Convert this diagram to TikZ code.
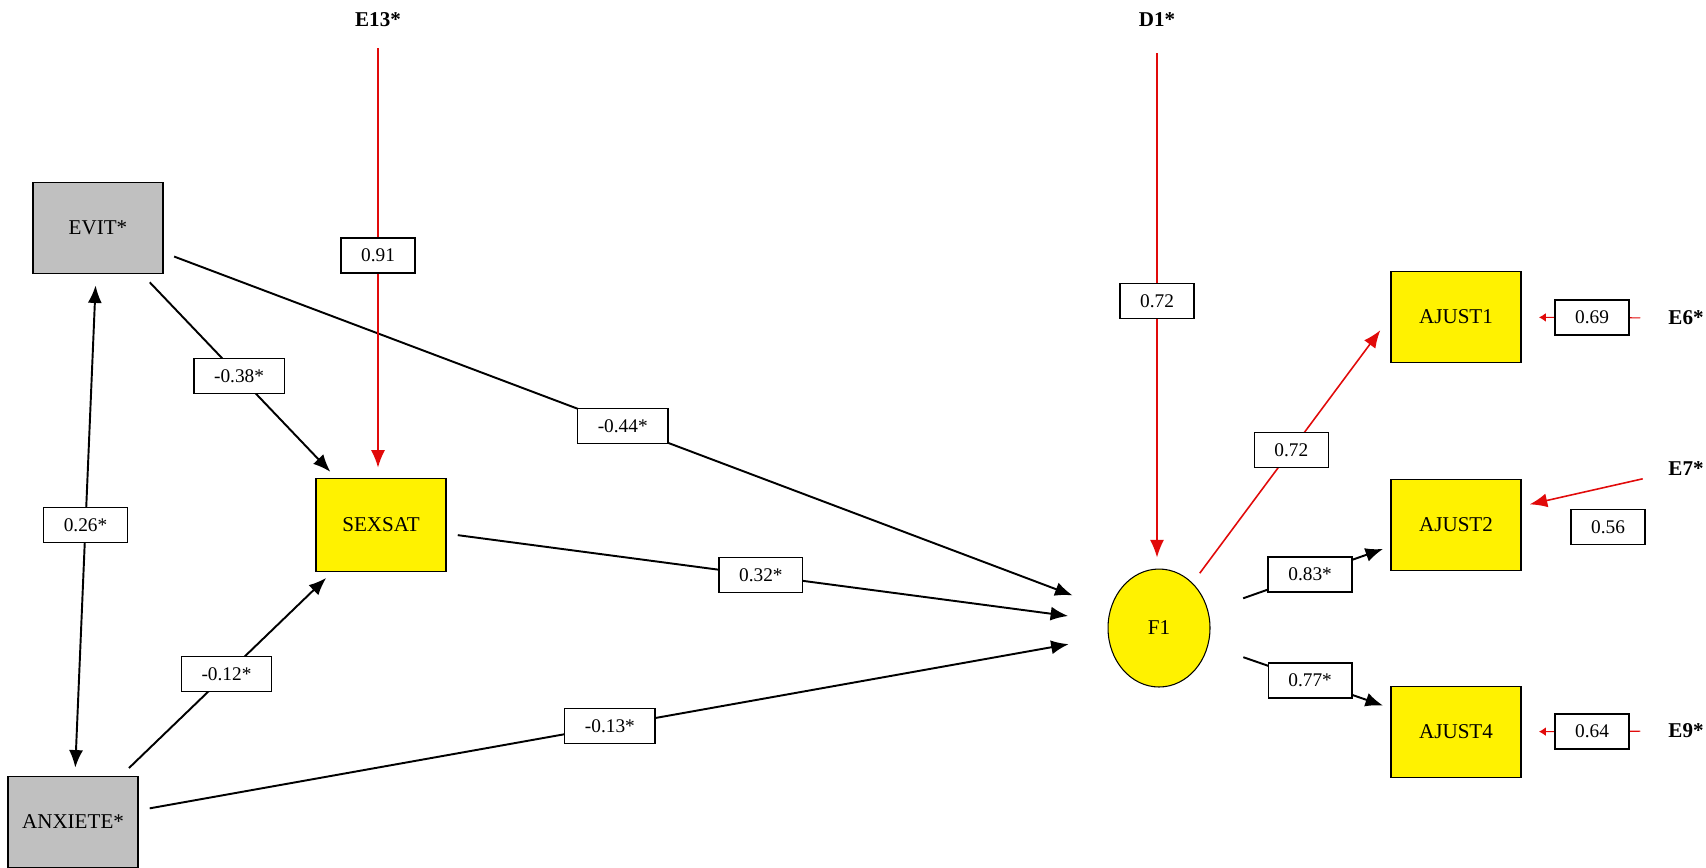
\documentclass[tikz,border=0pt]{standalone}
\usepackage{fontspec}
\setmainfont{Liberation Serif}
\usetikzlibrary{arrows.meta,shapes.geometric}
\definecolor{boxgray}{RGB}{192,192,192}
\definecolor{semred}{RGB}{225,10,10}
\tikzset{
    var/.style={draw,line width=1pt,fill=boxgray,minimum width=2.6cm,minimum height=1.82cm,font=\fontsize{12}{14}\selectfont},
    obs/.style={var,fill=yellow},
    lat/.style={ellipse,draw,line width=.6pt,fill=yellow,inner sep=0pt,minimum width=2.04cm,minimum height=2.36cm,font=\fontsize{12}{14}\selectfont},
    err/.style={font=\bfseries\fontsize{12}{14}\selectfont},
    coef/.style={draw=black,text=black,fill=white,line width=.8pt,inner xsep=11.5pt,minimum height=.7cm,font=\fontsize{11}{13}\selectfont},
    path/.style={->,line width=1.1pt,shorten <=.22cm,shorten >=.16cm},
    redpath/.style={->,semred,line width=.9pt,shorten <=.3cm,shorten >=.2cm},
    small/.style={-{Latex[length=4pt,width=5pt]},semred,line width=.6pt,shorten <=.44cm,shorten >=.34cm}
}
\begin{document}
\begin{tikzpicture}[x=0.02cm,y=-0.02cm,>={Latex[length=10pt,width=8pt]}]
    \useasboundingbox (0,0) rectangle (1706,867);

    \node[var] (evit) at (98,228) {EVIT*};
    \node[var] (anx) at (73,822) {ANXIETE*};
    \node[var,fill=yellow,minimum height=1.86cm] (sexsat) at (381,525) {SEXSAT};
    \node[lat] (f1) at (1159,628) {F1};
    \node[obs] (aj1) at (1456,317) {AJUST1};
    \node[obs] (aj2) at (1456,525) {AJUST2};
    \node[obs] (aj4) at (1456,732) {AJUST4};

    \node[err] (e13) at (378,20) {E13*};
    \node[err] (d1) at (1157,20) {D1*};
    \node[err] (e6) at (1686,318) {E6*};
    \node[err] (e7) at (1686,469) {E7*};
    \node[err] (e9) at (1686,731) {E9*};

    \draw[path,<->] (evit) -- node[coef]{0.26*} (anx);
    \draw[path] (evit) -- node[coef]{-0.38*} (sexsat);
    \draw[path] (anx) -- node[coef]{-0.12*} (sexsat);
    \draw[path,shorten >=.8cm] (evit) -- node[coef,pos=.485]{-0.44*} (f1);
    \draw[path,shorten >=.8cm] (sexsat) -- node[coef,pos=.475]{0.32*} (f1);
    \draw[path,shorten >=.8cm] (anx) -- node[coef,pos=.486]{-0.13*} (f1);

    \draw[redpath] (e13) -- node[coef]{0.91} (e13 |- sexsat.north);
    \draw[redpath,shorten <=.4cm,shorten >=.22cm] (d1) -- node[coef]{0.72} (d1 |- f1.north);
    \draw[redpath,shorten <=.24cm,shorten >=.33cm] (f1) -- node[coef]{0.72} (aj1.west);

    \draw[path,shorten <=.74cm,shorten >=.15cm] (f1) -- node[coef,pos=.56]{0.83*} (aj2.198);
    \draw[path,shorten <=.74cm,shorten >=.15cm] (f1) -- node[coef,pos=.56]{0.77*} (aj4.160);

    \draw[small] (e6) -- node[coef]{0.69} (aj1);
    \draw[small] (e9) -- node[coef]{0.64} (aj4);
    \draw[redpath,shorten <=.4cm,shorten >=.16cm] (e7) -- (aj2.16);
    \node[coef] (c56) at (1608,527) {0.56};

\end{tikzpicture}
\end{document}
